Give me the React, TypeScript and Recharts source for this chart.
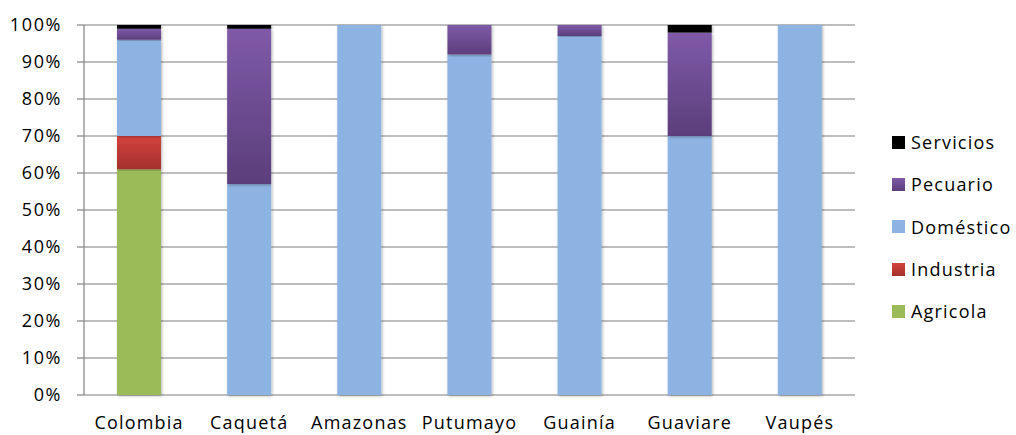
import { BarChart, Bar, XAxis, YAxis, CartesianGrid } from 'recharts';

const categories = ['Colombia', 'Caquetá', 'Amazonas', 'Putumayo', 'Guainía', 'Guaviare', 'Vaupés'];
const agricola = [61, 0, 0, 0, 0, 0, 0];
const industria = [9, 0, 0, 0, 0, 0, 0];
const domestico = [26, 57, 100, 92, 97, 70, 100];
const pecuario = [3, 42, 0, 8, 3, 28, 0];
const servicios = [1, 1, 0, 0, 0, 2, 0];
const yTicks = [0, 10, 20, 30, 40, 50, 60, 70, 80, 90, 100];
const edgeTicks = [0, 1, 2, 3, 4, 5, 6, 7];

const data = categories.map((name, i) => ({
  name,
  agricola: agricola[i],
  industria: industria[i],
  domestico: domestico[i],
  pecuario: pecuario[i],
  servicios: servicios[i],
}));

// bottom-to-top stacking order
const series = [
  { key: 'agricola', label: 'Agricola', fill: '#9bbb59', swatch: '#9bbb59' },
  { key: 'industria', label: 'Industria', fill: 'url(#gRed)', swatch: 'linear-gradient(#d4433e, #a3302c)' },
  { key: 'domestico', label: 'Doméstico', fill: '#8db3e2', swatch: '#8db3e2' },
  { key: 'pecuario', label: 'Pecuario', fill: 'url(#gPurple)', swatch: 'linear-gradient(#7f5aa8, #5b3e7b)' },
  { key: 'servicios', label: 'Servicios', fill: '#000000', swatch: '#000000' },
];

const FONT = '"Open Sans", sans-serif';
const GRID = '#a8a8a8';
const AXIS = '#8c8c8c';

const CategoryTick = ({ x, y, payload }: any) => (
  <text
    x={x}
    y={y}
    dy={34}
    textAnchor="middle"
    fill="#000"
    fontFamily={FONT}
    fontSize={18}
    letterSpacing={1.2}
  >
    {payload.value}
  </text>
);

const PercentTick = ({ x, y, payload }: any) => (
  <text
    x={x}
    y={y}
    dy={6}
    textAnchor="end"
    fill="#000"
    fontFamily={FONT}
    fontSize={18}
    letterSpacing={1.6}
  >
    {`${payload.value}%`}
  </text>
);

const LegendBox = () => (
  <div
    style={{
      position: 'absolute',
      left: 892,
      top: 121,
      fontFamily: FONT,
      fontSize: 18,
      letterSpacing: 1.2,
      color: '#000',
    }}
  >
    {[...series].reverse().map((s) => (
      <div key={s.key} style={{ display: 'flex', alignItems: 'center', height: 42.3 }}>
        <span style={{ width: 13, height: 13, background: s.swatch, marginRight: 6, flex: 'none' }} />
        <span>{s.label}</span>
      </div>
    ))}
  </div>
);

export default function App() {
  return (
    <div style={{ position: 'absolute', left: 0, top: 0, width: 1016, height: 435, background: '#fff' }}>
      <BarChart
        width={1016}
        height={435}
        data={data}
        margin={{ top: 25, right: 161, bottom: 0, left: 0 }}
      >
        <defs>
          <linearGradient id="gPurple" x1="0" y1="0" x2="0" y2="1">
            <stop offset="0%" stopColor="#7f5aa8" />
            <stop offset="100%" stopColor="#5b3e7b" />
          </linearGradient>
          <linearGradient id="gRed" x1="0" y1="0" x2="0" y2="1">
            <stop offset="0%" stopColor="#d4433e" />
            <stop offset="100%" stopColor="#a3302c" />
          </linearGradient>
          <filter id="barShadow" x="-20%" y="-5%" width="140%" height="110%">
            <feDropShadow dx="1" dy="1" stdDeviation="1.5" floodColor="#000" floodOpacity="0.3" />
          </filter>
        </defs>
        <CartesianGrid vertical={false} stroke={GRID} strokeWidth={1.3} />
        <XAxis
          xAxisId="edges"
          type="number"
          domain={[0, 7]}
          ticks={edgeTicks}
          interval={0}
          tick={false}
          height={0}
          tickSize={6}
          stroke={AXIS}
          strokeWidth={1.3}
        />
        <XAxis
          xAxisId="cat"
          dataKey="name"
          axisLine={false}
          tickLine={false}
          tickSize={0}
          tickMargin={0}
          height={40}
          interval={0}
          tick={<CategoryTick />}
        />
        <YAxis
          domain={[0, 100]}
          ticks={yTicks}
          interval={0}
          width={84}
          tickSize={7}
          tickMargin={15}
          stroke={AXIS}
          strokeWidth={1.3}
          tick={<PercentTick />}
        />
        {series.map((s) => (
          <Bar
            key={s.key}
            xAxisId="cat"
            dataKey={s.key}
            stackId="uso"
            fill={s.fill}
            barSize={44}
            filter="url(#barShadow)"
            isAnimationActive={false}
          />
        ))}
      </BarChart>
      <LegendBox />
    </div>
  );
}
